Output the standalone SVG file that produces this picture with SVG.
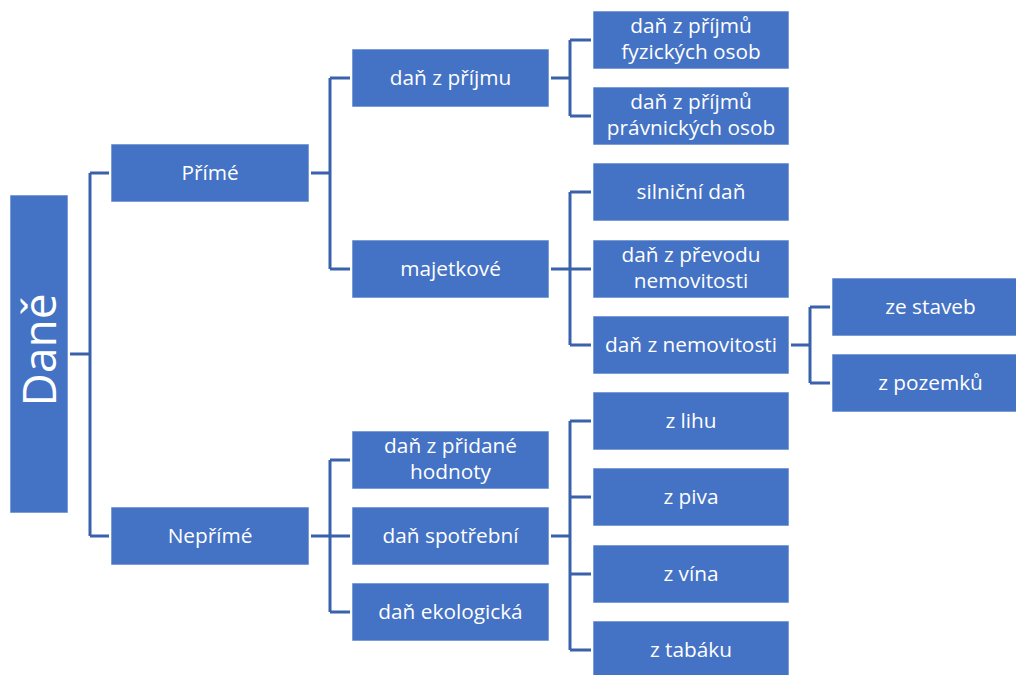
<svg xmlns="http://www.w3.org/2000/svg" width="1016" height="675" viewBox="0 0 1016 675">
<style>
.box{fill:#4472C4;stroke:#ffffff;stroke-opacity:0.6;stroke-width:1}
.t{font-family:"Open Sans","Noto Sans",sans-serif;font-size:20.8px;fill:#ffffff;text-anchor:middle}
.big{font-family:"Open Sans","Noto Sans",sans-serif;font-size:46px;fill:#ffffff;text-anchor:middle}
.c{fill:none;stroke:#3A62AC;stroke-width:3}
</style>
<rect width="1016" height="675" fill="#ffffff"/>
<g id="connectors">
<path class="c" d="M70 354H90M90 173V536M90 173H109M90 536H109"/>
<path class="c" d="M311 173H330M330 78V269M330 78H350M330 269H350"/>
<path class="c" d="M311 536H330M330 460V612M330 460H350M330 536H350M330 612H350"/>
<path class="c" d="M551 78H570M570 40V116M570 40H591M570 116H591"/>
<path class="c" d="M551 269H570M570 192V345M570 192H591M570 269H591M570 345H591"/>
<path class="c" d="M551 536H570M570 421V650M570 421H591M570 497H591M570 574H591M570 650H591"/>
<path class="c" d="M791 345H810M810 307V383M810 307H830M810 383H830"/>
</g>
<g id="n-dane"><rect class="box" x="10" y="195" width="58" height="318"/><text class="big" transform="translate(55.5 350) rotate(-90)">Daně</text></g>
<g id="n-prime"><rect class="box" x="111" y="144" width="198" height="58"/><text class="t" x="210" y="180">Přímé</text></g>
<g id="n-neprime"><rect class="box" x="111" y="507" width="198" height="58"/><text class="t" x="210" y="543">Nepřímé</text></g>
<g id="n-dan-z-prijmu"><rect class="box" x="352" y="49" width="197" height="58"/><text class="t" x="450.5" y="85">daň z příjmu</text></g>
<g id="n-majetkove"><rect class="box" x="352" y="240" width="197" height="58"/><text class="t" x="450.5" y="276">majetkové</text></g>
<g id="n-dph"><rect class="box" x="352" y="431" width="197" height="58"/><text class="t" x="450.5" y="453">daň z přidané</text><text class="t" x="450.5" y="479">hodnoty</text></g>
<g id="n-spotrebni"><rect class="box" x="352" y="507" width="197" height="58"/><text class="t" x="450.5" y="543">daň spotřební</text></g>
<g id="n-ekologicka"><rect class="box" x="352" y="583" width="197" height="58"/><text class="t" x="450.5" y="619">daň ekologická</text></g>
<g id="n-fo"><rect class="box" x="593" y="11" width="196" height="58"/><text class="t" x="691" y="33">daň z příjmů</text><text class="t" x="691" y="59">fyzických osob</text></g>
<g id="n-po"><rect class="box" x="593" y="87" width="196" height="58"/><text class="t" x="691" y="109">daň z příjmů</text><text class="t" x="691" y="135">právnických osob</text></g>
<g id="n-silnicni"><rect class="box" x="593" y="163" width="196" height="58"/><text class="t" x="691" y="199">silniční daň</text></g>
<g id="n-prevod"><rect class="box" x="593" y="240" width="196" height="58"/><text class="t" x="691" y="262">daň z převodu</text><text class="t" x="691" y="288">nemovitosti</text></g>
<g id="n-nemovitosti"><rect class="box" x="593" y="316" width="196" height="58"/><text class="t" x="691" y="352">daň z nemovitosti</text></g>
<g id="n-lihu"><rect class="box" x="593" y="392" width="196" height="58"/><text class="t" x="691" y="428">z lihu</text></g>
<g id="n-piva"><rect class="box" x="593" y="468" width="196" height="58"/><text class="t" x="691" y="504">z piva</text></g>
<g id="n-vina"><rect class="box" x="593" y="545" width="196" height="58"/><text class="t" x="691" y="581">z vína</text></g>
<g id="n-tabaku"><rect class="box" x="593" y="621" width="196" height="58"/><text class="t" x="691" y="657">z tabáku</text></g>
<g id="n-staveb"><rect class="box" x="832" y="278" width="197" height="58"/><text class="t" x="930.5" y="314">ze staveb</text></g>
<g id="n-pozemku"><rect class="box" x="832" y="354" width="197" height="58"/><text class="t" x="930.5" y="390">z pozemků</text></g>
</svg>
